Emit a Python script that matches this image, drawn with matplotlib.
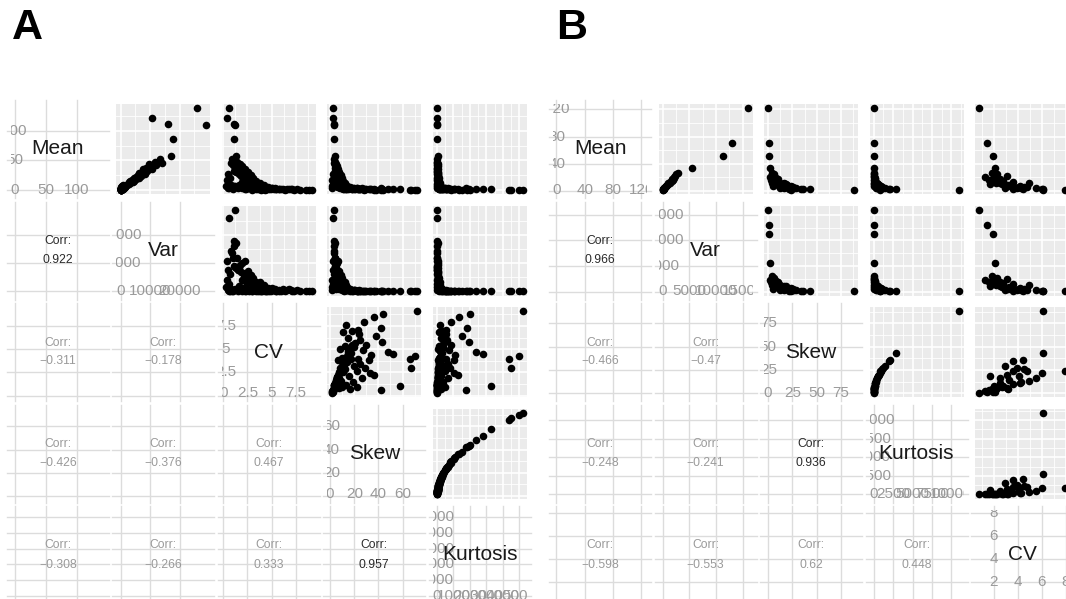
import matplotlib.pyplot as plt

plt.rcParams['font.family'] = ['Liberation Sans', 'DejaVu Sans']

# ---- panel A : Mean, Var, CV, Skew, Kurtosis ----
a_names = ['Mean', 'Var', 'CV', 'Skew', 'Kurtosis']
a_mean = [138, 109, 121, 111, 86, 57, 27,
          52, 48, 45, 44, 42, 40, 38, 36, 35, 33, 31, 30, 28, 27, 25, 24, 22, 21, 20, 18,
          17, 16, 15, 14, 13, 12, 11, 10, 9, 8, 7, 6, 5.5, 5, 4, 3.5, 3, 2.5, 2, 1.5,
          0.4, 0.6, 0.8, 1.0, 1.3, 0.7, 0.9, 1.1, 1.5, 1.2, 0.9, 0.5, 0.8, 2.0, 3.0, 2.5, 1.8, 2.2,
          7.5, 6.8, 8.0, 5.5, 6.2, 4.2, 5.0, 3.1, 6.6, 3.8, 2.4, 4.6, 2.9, 1.8, 4.0, 3.3, 2.1, 3.0, 2.6, 1.5,
          2.8, 1.9, 2.3, 1.4, 1.7, 1.2, 5.2, 3.5, 2.2, 4.9, 6.0, 7.2, 3.0, 5.4, 2.0, 4.4, 1.6, 3.4, 3.8, 1.6]
a_var = [26000, 29000, 10800, 16200, 17900, 17200, 8400,
         13500, 11800, 14200, 9500, 12000, 10200, 8800, 10800, 7600, 9000, 7200, 8400, 6400, 7600, 5800, 6900, 5100, 6200, 4600, 5200,
         3900, 4600, 3300, 4100, 2900, 3300, 2500, 2700, 2000, 2100, 1500, 1400, 1100, 1200, 800, 700, 550, 450, 300, 200,
         20, 30, 45, 60, 80, 28, 35, 40, 50, 30, 12, 5, 6, 4, 3, 30, 48, 56,
         900, 1300, 700, 1100, 850, 1000, 620, 800, 400, 560, 720, 330, 470, 520, 180, 390, 410, 200, 300, 330,
         110, 260, 150, 190, 60, 90, 1500, 1200, 950, 780, 1250, 350, 640, 120, 430, 690, 450, 380, 70, 280]
a_cv = [0.6, 1.2, 0.4, 1.1, 1.1, 1.3, 1.6,
        0.9, 1.4, 0.8, 1.7, 1.0, 1.9, 1.2, 2.2, 1.5, 1.1, 2.6, 1.3, 2.0, 0.5, 2.9, 1.8, 2.4, 0.7, 3.1, 2.1,
        0.4, 2.7, 3.4, 1.9, 2.5, 3.8, 0.6, 3.0, 1.6, 4.2, 0.3, 3.5, 4.6, 2.0, 3.2, 5.0, 0.5, 4.0, 3.6, 5.4,
        9.1, 8.8, 8.5, 7.9, 7.1, 7.3, 6.4, 5.8, 4.7, 4.5, 3.9, 4.3, 3.0, 1.0, 0.6, 2.2, 3.8, 3.4,
        1.2, 2.0, 0.8, 3.0, 1.6, 4.1, 2.5, 5.3, 1.1, 3.6, 6.2, 2.1, 4.6, 7.0, 1.5, 3.2, 5.7, 2.7, 4.0, 6.6,
        1.9, 4.9, 3.0, 5.4, 2.4, 4.4, 3.8, 5.0, 6.8, 2.9, 1.9, 0.9, 4.8, 0.7, 5.2, 3.3, 7.6, 3.9, 0.9, 6.0]
a_skew = [2.5, 3.5, 2.0, 3.0, 3.2, 4.0, 4.5,
          3.5, 4.2, 3.0, 5.1, 3.8, 5.6, 4.4, 6.2, 4.8, 4.0, 7.5, 4.6, 6.0, 2.2, 8.8, 5.9, 7.1, 2.8, 9.6, 6.6,
          1.5, 8.2, 10.5, 6.1, 7.8, 12.0, 2.0, 9.4, 5.4, 13.5, 1.2, 11.0, 14.8, 6.5, 10.2, 16.5, 1.8, 12.8, 11.5, 18.0,
          72, 44, 36, 28, 23, 42, 38, 43, 48, 52, 66, 70, 67, 58, 42, 36, 32, 25,
          5, 6, 7, 8, 9, 10, 11, 12, 13, 14, 15, 16, 17, 18, 19, 20, 21, 22, 23, 24,
          26, 27, 29, 30, 33, 34, 6.5, 8.5, 10.5, 12.5, 7.5, 9.5, 14.5, 16.5, 19.5, 11.5, 13.5, 17.5, 22.5, 25]
a_kurt = [12, 25, 8, 18, 20, 30, 40,
          14, 20, 11, 28, 16, 33, 21, 40, 25, 18, 58, 23, 38, 6, 80, 36, 52, 9, 95, 45,
          3, 70, 115, 39, 63, 150, 5, 90, 31, 185, 2, 125, 225, 44, 105, 280, 4, 170, 135, 330,
          5200, 2000, 1350, 820, 560, 1800, 1500, 1950, 2350, 2800, 4350, 5000, 4500, 3300, 1750, 1300, 1050, 650,
          30, 40, 50, 62, 80, 95, 115, 140, 165, 190, 220, 250, 280, 320, 350, 390, 430, 470, 520, 560,
          650, 700, 810, 870, 1050, 1120, 45, 70, 105, 150, 55, 88, 205, 265, 370, 130, 180, 300, 500, 600]
a_breaks = [[0, 50, 100], [0, 10000, 20000], [0, 2.5, 5, 7.5], [0, 20, 40, 60],
            [0, 1000, 2000, 3000, 4000, 5000]]
a_ticklabels = [['0', '50', '100'], ['0', '10000', '20000'], ['0', '2.5', '5', '7.5'],
                ['0', '20', '40', '60'], ['0', '1000', '2000', '3000', '4000', '5000']]
a_corr = [['0.922'],
          ['−0.311', '−0.178'],
          ['−0.426', '−0.376', '0.467'],
          ['−0.308', '−0.266', '0.333', '0.957']]

# ---- panel B : Mean, Var, Skew, Kurtosis, CV ----
b_names = ['Mean', 'Var', 'Skew', 'Kurtosis', 'CV']
b_mean = [122, 70, 52, 34, 26.7, 24, 21, 19, 17, 15, 13, 12, 11, 10, 9, 8, 7.5, 7, 6, 5.5,
          5, 4.5, 4, 3.5, 3, 2.8, 2.5, 2.0, 1.5, 1.2, 16, 20, 12, 9.5, 6.5, 3.8]
b_var = [16000, 13000, 11300, 5500, 2950, 2600, 2400, 2100, 1800, 1700, 1400, 1300, 1100, 1000, 900, 800, 700, 650, 500, 450,
         400, 350, 300, 250, 200, 180, 150, 100, 60, 40, 1900, 2200, 1200, 950, 600, 280]
b_skew = [0.3, 0.9, 1.2, 1.8, 4.5, 6.0, 5.3, 8.0, 10.7, 7.5, 9.6, 12.8, 16.0, 18.0, 14, 20.0, 11, 23.6, 18.0, 25.7,
          23.6, 16.0, 27.0, 29.0, 34.0, 36.0, 43.0, 21.4, 23.6, 88.0, 3.0, 2.2, 4.0, 6.5, 5.0, 12.0]
b_kurt = [2, 4, 6, 10, 45, 70, 60, 120, 200, 100, 160, 290, 440, 560, 340, 690, 210, 950, 560, 1120,
          950, 440, 1250, 1500, 1950, 2050, 2800, 800, 850, 11000, 20, 12, 35, 80, 50, 250]
b_cv = [0.8, 1.45, 1.95, 2.1, 1.85, 2.3, 3.1, 2.0, 2.5, 2.8, 3.6, 4.9, 2.55, 1.7, 3.3, 3.1, 4.2, 3.6, 4.1, 4.5,
        4.8, 5.5, 3.9, 2.9, 3.6, 4.4, 6.1, 6.05, 7.9, 6.1, 1.6, 1.3, 2.2, 2.7, 3.2, 4.3]
b_breaks = [[0, 40, 80, 120], [0, 5000, 10000, 15000], [0, 25, 50, 75],
            [0, 2500, 5000, 7500, 10000], [2, 4, 6, 8]]
b_ticklabels = [['0', '40', '80', '120'], ['0', '5000', '10000', '15000'], ['0', '25', '50', '75'],
                ['0', '2500', '5000', '7500', '10000'], ['2', '4', '6', '8']]
b_corr = [['0.966'],
          ['−0.466', '−0.47'],
          ['−0.248', '−0.241', '0.936'],
          ['−0.598', '−0.553', '0.62', '0.448']]

W, H = 1066, 599
fig = plt.figure(figsize=(W / 100, H / 100), dpi=100)

STEP_X, STEP_Y, PW, PH, TOP = 105.5, 101.5, 94, 90, 104
GRID_LIGHT = '#DCDCDC'
LAB_GRAY = '#9A9A9A'


def px_axes(x, y, w, h):
    return fig.add_axes([x / W, 1 - (y + h) / H, w / W, h / H])


def minors(br, lim):
    step = br[1] - br[0]
    cand = [br[0] - step / 2] + [b + step / 2 for b in br]
    return [c for c in cand if lim[0] < c < lim[1]]


def draw_matrix(x0, names, data, breaks, ticklabels, corr):
    n = len(names)
    lims = []
    for v in data:
        lo, hi = min(v), max(v)
        pad = (hi - lo) * 0.05
        lims.append((lo - pad, hi + pad))
    for i in range(n):
        for j in range(n):
            ax = px_axes(x0 + j * STEP_X, TOP + i * STEP_Y, PW, PH)
            xl, yl = lims[j], lims[i]
            ax.set_xticks([])
            ax.set_yticks([])
            for s in ax.spines.values():
                s.set_visible(False)
            xb = [b for b in breaks[j] if xl[0] <= b <= xl[1]]
            yb = [b for b in breaks[i] if yl[0] <= b <= yl[1]]
            if i < j:
                # scatter panel
                ax.set_facecolor('#EBEBEB')
                for m in minors(breaks[j], xl):
                    ax.axvline(m, color='white', lw=0.6, zorder=1)
                for m in minors(breaks[i], yl):
                    ax.axhline(m, color='white', lw=0.6, zorder=1)
                for b in xb:
                    ax.axvline(b, color='white', lw=1.2, zorder=1)
                for b in yb:
                    ax.axhline(b, color='white', lw=1.2, zorder=1)
                ax.scatter(data[j], data[i], s=30, color='black', linewidths=0, zorder=3)
            else:
                ax.set_facecolor('white')
                dx = (xl[1] - xl[0]) * 4 / PW
                dy = (yl[1] - yl[0]) * 4 / PH
                for b in xb:
                    ax.plot([b, b], [yl[0] - dy, yl[1] + dy], color=GRID_LIGHT, lw=1.0,
                            zorder=1, clip_on=False)
                for b in yb:
                    ax.plot([xl[0] - dx, xl[1] + dx], [b, b], color=GRID_LIGHT, lw=1.0,
                            zorder=1, clip_on=False)
                if i == j:
                    ax.text(0.5, 0.5, names[i], transform=ax.transAxes, ha='center', va='center',
                            fontsize=15, color='#1A1A1A', zorder=4)
                    xpos = max(breaks[j][0], min(data[j]))
                    ypos = max(breaks[i][0], min(data[i]))
                    for b, lab in zip(breaks[i][1:], ticklabels[i][1:]):
                        ax.text(xpos, b, lab, ha='center', va='center', fontsize=11,
                                color=LAB_GRAY, clip_on=True, zorder=3)
                    for b, lab in zip(breaks[j], ticklabels[j]):
                        ax.text(b, ypos, lab, ha='center', va='center', fontsize=11,
                                color=LAB_GRAY, clip_on=True, zorder=3)
                else:
                    val = corr[i - 1][j]
                    strong = abs(float(val.replace('−', '-'))) > 0.9
                    col = '#2A2A2A' if strong else LAB_GRAY
                    ax.text(0.5, 0.5 + 9.5 / PH, 'Corr:', transform=ax.transAxes, ha='center',
                            va='center', fontsize=8.7, color=col)
                    ax.text(0.5, 0.5 - 9.5 / PH, val, transform=ax.transAxes, ha='center',
                            va='center', fontsize=8.7, color=col)
            ax.set_xlim(xl)
            ax.set_ylim(yl)


draw_matrix(10.8, a_names, [a_mean, a_var, a_cv, a_skew, a_kurt], a_breaks, a_ticklabels, a_corr)
draw_matrix(553, b_names, [b_mean, b_var, b_skew, b_kurt, b_cv], b_breaks, b_ticklabels, b_corr)

fig.text(27 / W, 1 - 28 / H, 'A', fontsize=31, fontweight='bold', ha='center', va='center')
fig.text(572 / W, 1 - 28 / H, 'B', fontsize=31, fontweight='bold', ha='center', va='center')

fig.savefig('out.png', dpi=100)
